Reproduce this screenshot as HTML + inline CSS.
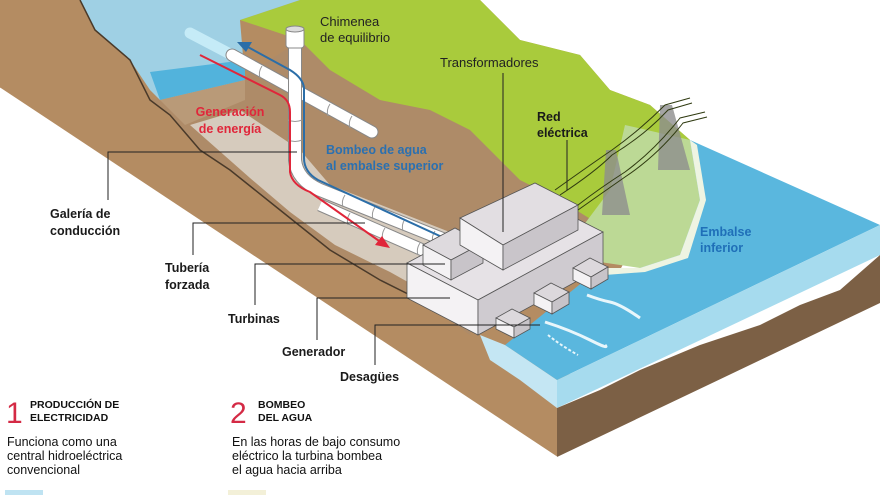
<!DOCTYPE html>
<html><head><meta charset="utf-8"><style>
html,body{margin:0;padding:0;background:#fff}
svg{display:block}
text{font-family:"Liberation Sans",Arial,sans-serif}
.lb{font-size:12.5px;font-weight:bold;fill:#1a1a1a}
.ln{stroke:#222;stroke-width:1;fill:none}
.box{stroke:#555;stroke-width:0.8}
.ring{stroke:#999;stroke-width:1;fill:none}
</style></head><body>
<svg width="880" height="495" viewBox="0 0 880 495" xmlns="http://www.w3.org/2000/svg">
<polygon points="0,0 480,0 520,40 580,55 610,90 650,105 690,140 620,270 557,400 557,457 0,88" fill="#b48c62"/>
<polygon points="150,100 240,80 300,40 330,70 380,100 430,110 470,130 520,180 560,200 600,225 480,300 470,335 420,300 380,280 330,250 280,210 230,170 200,150 165,110" fill="#ae8b68"/>
<polygon points="190,125 240,110 300,150 330,185 470,240 480,300 440,300 390,272 335,245 290,212 250,178" fill="#d6cbbd"/>
<polygon points="240,20 300,0 480,0 520,40 580,55 610,90 650,105 690,140 640,230 600,225 560,200 520,180 470,130 430,110 380,100 330,70 300,40" fill="#a9cb3c"/>
<polygon points="625,125 690,140 700,200 680,255 640,268 600,262 580,230 610,190" fill="#bcd995"/>
<polygon points="80,0 300,0 240,20 245,80 160,100 150,90 130,60 95,30" fill="#9fd0e4"/>
<polygon points="150,72 245,60 245,80 160,100" fill="#52b3dc"/>
<polygon points="160,100 245,80 245,100 185,125" fill="#b99a78"/>
<polygon points="690,140 880,225 557,380 505,345 600,268 640,268 680,255 700,200" fill="#5ab7de"/>
<polygon points="690,140 700,200 680,255 640,268 600,268 605,275 645,272 688,258 706,200 697,145" fill="#eef4e2"/>
<polygon points="557,380 880,225 880,255 557,408" fill="#a6dbee"/>
<polygon points="480,335 505,345 557,380 557,408 520,380 490,360" fill="#c4e6f3"/>
<polygon points="557,408 600,390 640,370 700,345 760,325 800,305 840,290 880,255 880,303 557,457" fill="#7c6045"/>
<line x1="0" y1="88" x2="557" y2="457" stroke="#fff" stroke-width="1"/>
<polyline points="80,0 95,30 130,60 150,100 170,115 200,150 230,170 280,210 330,250 380,280 420,300" fill="none" stroke="#4a3a2a" stroke-width="1.5"/>
<!-- pipes -->
<line x1="190" y1="33" x2="232" y2="55" stroke="#c5ebf7" stroke-width="11" stroke-linecap="round"/>
<line x1="232" y1="55" x2="372" y2="132" stroke="#888" stroke-width="13" stroke-linecap="round"/>
<line x1="232" y1="55" x2="372" y2="132" stroke="#fff" stroke-width="11" stroke-linecap="round"/>
<path d="M295,40 L295,160 Q297,180 320,190 L465,248" fill="none" stroke="#888" stroke-width="14"/>
<path d="M295,40 L295,160 Q297,180 320,190 L465,248" fill="none" stroke="#fff" stroke-width="12"/>
<path d="M320,205 L450,262" fill="none" stroke="#888" stroke-width="13"/>
<path d="M320,205 L450,262" fill="none" stroke="#fff" stroke-width="11"/>
<g class="ring">
<path d="M262,66 q-4,6 -2,12"/><path d="M330,104 q-4,6 -2,12"/><path d="M352,116 q-4,6 -2,12"/>
<path d="M288,120 q7,3 14,0"/><path d="M288,140 q7,3 14,0"/>
<path d="M345,195 q-4,6 -2,12"/><path d="M375,207 q-4,6 -2,12"/><path d="M405,219 q-4,6 -2,12"/><path d="M435,231 q-4,6 -2,12"/>
<path d="M350,213 q-4,6 -2,12"/><path d="M385,228 q-4,6 -2,12"/><path d="M420,243 q-4,6 -2,12"/>
</g>
<rect x="286" y="28" width="18" height="20" rx="3" fill="#fff" stroke="#888"/>
<ellipse cx="295" cy="29" rx="9" ry="3" fill="#ddd" stroke="#888"/>
<path d="M200,55 L280,95 Q290,100 290,112 L290,172 Q292,185 310,192 L382,243" fill="none" stroke="#e0263a" stroke-width="2"/>
<polygon points="390,248 375,245 382,236" fill="#e0263a"/>
<path d="M455,243 L318,180 Q304,172 304,158 L304,88 Q303,78 290,70 L246,46" fill="none" stroke="#2b6ea8" stroke-width="2"/>
<polygon points="237,42 252,42 246,52" fill="#2b6ea8"/>
<polygon class="box" points="407,263 532,196 603,232 478,300" fill="#e6e2e6"/>
<polygon class="box" points="407,263 478,300 478,335 407,298" fill="#f4f2f4"/>
<polygon class="box" points="478,300 603,232 603,267 478,335" fill="#cfcbd0"/>
<polygon class="box" points="423,245 455,228 483,243 451,260" fill="#dedade"/>
<polygon class="box" points="423,245 451,260 451,280 423,265" fill="#f4f2f4"/>
<polygon class="box" points="451,260 483,243 483,263 451,280" fill="#c8c4c9"/>
<polygon class="box" points="460,218 535,183 578,205 503,245" fill="#e2dee2"/>
<polygon class="box" points="460,218 503,245 503,270 460,245" fill="#f4f2f4"/>
<polygon class="box" points="503,245 578,205 578,230 503,270" fill="#c9c5ca"/>
<g>
<polygon class="box" points="496,318 512,309 530,318 514,327" fill="#dcd8dc"/><polygon class="box" points="496,318 514,327 514,338 496,329" fill="#f4f2f4"/><polygon class="box" points="514,327 530,318 530,329 514,338" fill="#c8c4c9"/>
<polygon class="box" points="534,293 551,283 569,292 552,302" fill="#dcd8dc"/><polygon class="box" points="534,293 552,302 552,314 534,305" fill="#f4f2f4"/><polygon class="box" points="552,302 569,292 569,304 552,314" fill="#c8c4c9"/>
<polygon class="box" points="573,268 590,258 608,267 591,277" fill="#dcd8dc"/><polygon class="box" points="573,268 591,277 591,289 573,280" fill="#f4f2f4"/><polygon class="box" points="591,277 608,267 608,279 591,289" fill="#c8c4c9"/>
</g>
<path d="M587,295 Q600,300 610,302 T640,318" stroke="#e8f6fb" stroke-width="3" fill="none"/>
<path d="M545,322 Q570,330 590,340 T605,345" stroke="#e8f6fb" stroke-width="3" fill="none"/>
<path d="M548,335 Q560,345 578,355" stroke="#e8f6fb" stroke-width="2" stroke-dasharray="3 2" fill="none"/>
<g fill="#8d8d8d" opacity="0.8">
<polygon points="606,150 616,150 630,215 602,215"/>
<polygon points="660,105 672,105 690,170 658,170"/>
</g>
<g stroke="#2f3a10" stroke-width="1" fill="none">
<path d="M555,190 Q590,165 612,150 Q640,130 665,105 L690,98"/>
<path d="M560,195 Q595,172 612,155 Q645,135 668,110 L692,103"/>
<path d="M578,205 Q600,188 625,172 Q655,150 680,118 L705,112"/>
<path d="M578,210 Q602,193 625,177 Q658,155 683,123 L707,117"/>
</g>
<text x="320" y="26" font-size="13" fill="#222">Chimenea</text>
<text x="320" y="42" font-size="13" fill="#222">de equilibrio</text>
<text x="440" y="67" font-size="13" fill="#222">Transformadores</text>
<line class="ln" x1="503" y1="73" x2="503" y2="232"/>
<text x="537" y="121" class="lb">Red</text>
<text x="537" y="137" class="lb">eléctrica</text>
<line class="ln" x1="567" y1="140" x2="567" y2="190"/>
<text x="230" y="116" font-size="12.5" font-weight="bold" fill="#e0263a" text-anchor="middle">Generación</text>
<text x="230" y="133" font-size="12.5" font-weight="bold" fill="#e0263a" text-anchor="middle">de energía</text>
<text x="326" y="154" font-size="12.5" font-weight="bold" fill="#2b70b0">Bombeo de agua</text>
<text x="326" y="170" font-size="12.5" font-weight="bold" fill="#2b70b0">al embalse superior</text>
<text x="700" y="236" font-size="12.5" font-weight="bold" fill="#1f6fb8">Embalse</text>
<text x="700" y="252" font-size="12.5" font-weight="bold" fill="#1f6fb8">inferior</text>
<polyline class="ln" points="108,200 108,152 297,152"/>
<text x="50" y="218" class="lb">Galería de</text>
<text x="50" y="235" class="lb">conducción</text>
<polyline class="ln" points="193,255 193,223 365,223"/>
<text x="165" y="272" class="lb">Tubería</text>
<text x="165" y="289" class="lb">forzada</text>
<polyline class="ln" points="255,305 255,264 445,264"/>
<text x="228" y="323" class="lb">Turbinas</text>
<polyline class="ln" points="317,340 317,298 450,298"/>
<text x="282" y="356" class="lb">Generador</text>
<polyline class="ln" points="375,365 375,325 540,325"/>
<text x="340" y="381" class="lb">Desagües</text>
<text x="6" y="423" font-size="30" fill="#d42a45">1</text>
<text x="30" y="408" font-size="10.5" font-weight="bold" fill="#111">PRODUCCIÓN DE</text>
<text x="30" y="421" font-size="10.5" font-weight="bold" fill="#111">ELECTRICIDAD</text>
<text x="7" y="446" font-size="12.5" fill="#111">Funciona como una</text>
<text x="7" y="460" font-size="12.5" fill="#111">central hidroeléctrica</text>
<text x="7" y="474" font-size="12.5" fill="#111">convencional</text>
<text x="230" y="423" font-size="30" fill="#d42a45">2</text>
<text x="258" y="408" font-size="10.5" font-weight="bold" fill="#111">BOMBEO</text>
<text x="258" y="421" font-size="10.5" font-weight="bold" fill="#111">DEL AGUA</text>
<text x="232" y="446" font-size="12.5" fill="#111">En las horas de bajo consumo</text>
<text x="232" y="460" font-size="12.5" fill="#111">eléctrico la turbina bombea</text>
<text x="232" y="474" font-size="12.5" fill="#111">el agua hacia arriba</text>
<rect x="5" y="490" width="38" height="5" fill="#bfe3f2"/>
<rect x="228" y="490" width="38" height="5" fill="#f3f0d8"/>
</svg>
</body></html>
